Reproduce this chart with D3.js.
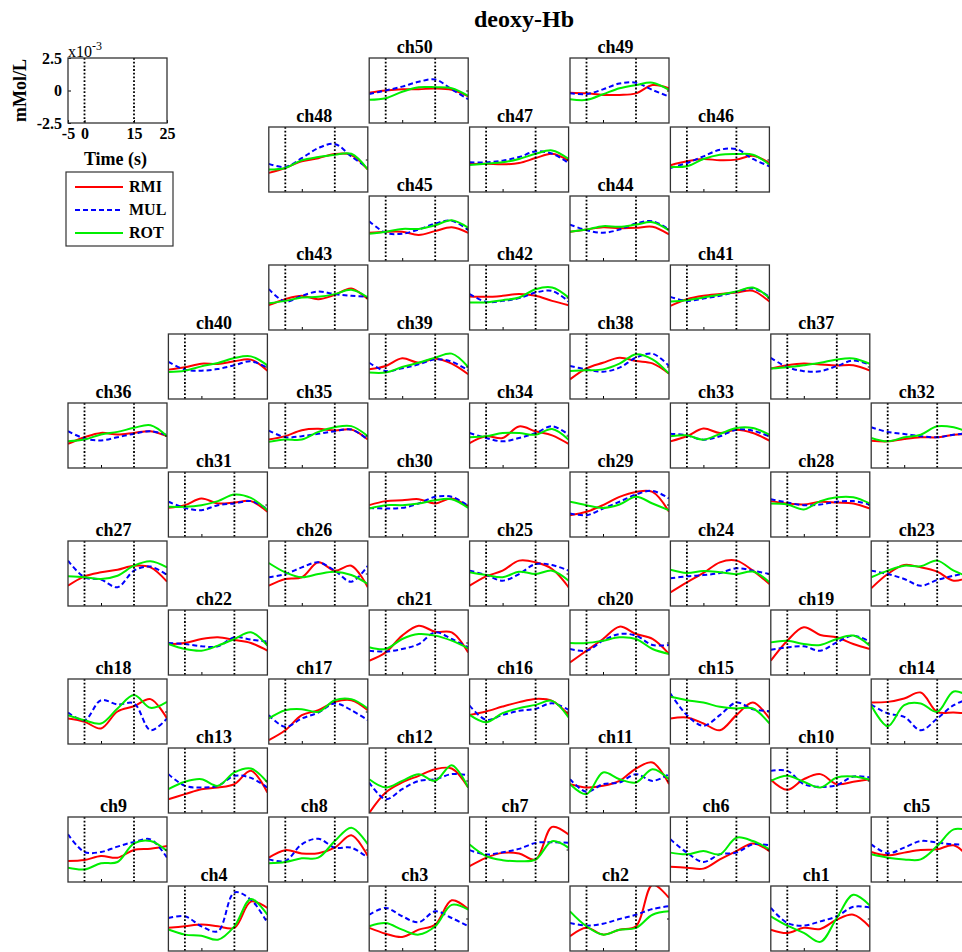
<!DOCTYPE html>
<html lang="en">
<head>
<meta charset="utf-8">
<title>deoxy-Hb</title>
<script src="https://d3js.org/d3.v7.min.js"></script>
<style>
  body { margin: 0; background: white; }
  svg text { font-family: "Times New Roman", "Liberation Serif", serif; fill: black; }
</style>
</head>
<body>
<div id="chart"></div>
<script>
// sample times (s) and deoxy-Hb values (x10^-3 mMol/L), index = channel - 1
var times = [-5, 0, 5, 10, 15, 20, 25];

var rmi = [
  [-0.86,-1.12,-0.72,-0.8,-0.09,0.29,-0.65],
  [-1.37,-0.72,-1.24,-0.86,-0.6,2.6,1.58],
  [-0.72,-1.17,-1.42,-0.86,-0.47,1.4,0.73],
  [-0.72,-0.6,-0.47,-0.6,-0.72,1.3,0.81],
  [-0.19,-0.45,-0.24,-0.04,0.01,0.32,-0.76],
  [-1.32,-1.4,-1.47,-0.76,-0.12,0.47,-0.12],
  [-1.28,-0.64,-0.26,-0.31,-0.77,1.74,1.15],
  [-0.63,-0.05,-0.3,-0.29,0.14,1.09,-0.5],
  [-0.88,-0.81,-0.5,-0.63,-0.04,0.06,0.27],
  [0.05,-0.72,0.1,0.49,-0.28,-0.1,0.1],
  [-0.28,-0.54,-0.41,-0.03,0.92,1.38,-0.28],
  [-2.5,-0.92,-0.15,0.36,0.87,0.92,-0.54],
  [-1.44,-1.05,-0.67,-0.54,-0.28,0.75,-0.92],
  [0.69,0.74,1.0,1.46,-0.03,-0.08,-0.15],
  [-0.54,-0.46,-0.92,-1.44,-0.28,0.69,-0.54],
  [-0.26,0,0.38,0.72,0.97,0.82,-0.26],
  [-2.2,-1.44,-0.28,0.1,0.74,0.87,0.1],
  [-0.54,-0.79,-1.3,0.0,0.4,0.95,-0.54],
  [-1.4,0.14,1.17,0.58,0.4,-0.12,-0.5],
  [-1.53,-0.63,0.27,1.22,0.65,0.27,-0.88],
  [-1.4,-0.76,0.53,1.29,0.83,0.78,-0.76],
  [-0.12,-0.04,0.27,0.4,0.19,-0.04,-0.63],
  [-1.14,-0.04,0.65,0.47,0.14,-0.55,-0.22],
  [-1.45,-0.68,0.04,0.86,0.99,0.22,-0.81],
  [-0.94,-0.22,0.22,0.99,0.86,0.35,-1.06],
  [-0.94,-0.42,-0.29,0.86,0.22,0.6,-1.06],
  [-0.94,-0.22,0.09,0.29,0.6,0.47,-0.63],
  [0.26,0.08,0,0.21,0.15,0.08,-0.31],
  [-0.82,-0.56,-0.05,0.59,0.97,0.97,-0.56],
  [-0.05,0.26,0.33,0.41,0.08,0.46,-0.18],
  [-0.26,-0.05,0.46,0.08,0.15,0.26,-0.56],
  [-0.4,-0.45,-0.27,-0.14,-0.14,0.06,0.12],
  [-0.45,-0.06,0.53,0.19,0.45,0.19,-0.4],
  [-0.58,-0.06,-0.19,0.7,0.32,0.01,-0.65],
  [-0.31,-0.05,0.41,0.51,0.38,0.46,-0.31],
  [-0.64,-0.13,0.2,0.08,0.2,0.33,-0.05],
  [-0.15,0.1,0.23,0.15,0.08,0.1,-0.31],
  [-0.99,-0.14,0.29,0.68,0.42,0.24,-0.55],
  [-0.22,0.04,0.63,0.29,0.6,0.22,-0.6],
  [-0.24,-0.06,0.22,0.19,0.4,0.53,-0.32],
  [-0.64,-0.13,0.13,0.26,0.38,0.51,-0.31],
  [0.08,0.05,0.13,0.26,0.13,-0.26,-0.59],
  [-0.59,-0.13,0.13,-0.13,0.2,0.69,-0.13],
  [-0.25,-0.08,0.1,0.03,0.05,0.13,-0.46],
  [-0.33,-0.25,-0.25,-0.5,-0.2,0.1,-0.33],
  [-0.44,-0.14,0.04,-0.06,-0.01,0.29,-0.27],
  [-0.34,-0.32,-0.37,-0.27,0.11,0.44,-0.09],
  [-1.03,-0.65,-0.14,0.1,0.42,0.35,-0.77],
  [-0.17,-0.22,-0.34,-0.34,-0.22,0.42,0.17],
  [-0.17,0,0.1,0.1,0.15,0.05,-0.45]
];

var mul = [
  [0.81,-0.35,-0.55,-0.22,0.17,0.9,0.85],
  [-0.35,-0.55,-0.4,-0.04,0.29,0.73,0.94],
  [0.29,0.81,0.17,-0.29,0.55,0.04,-0.6],
  [0.04,0.17,-0.6,-0.98,2.0,1.45,-0.34],
  [0.4,-0.29,0.14,0.65,0.53,0.4,0.4],
  [0.78,-0.24,-0.96,-0.37,-0.24,0.4,0.32],
  [-0.05,-0.38,-0.21,0.05,0.51,0.56,0.51],
  [-0.76,-0.88,0.4,0.83,0.14,0.14,-0.63],
  [1.17,-0.19,-0.19,0.22,0.58,0.78,-0.63],
  [0.74,0.74,-0.28,-0.49,-0.36,0.31,0.23],
  [0.1,-0.87,-0.28,-0.15,0.49,-0.03,0.49],
  [-0.15,-1.44,-0.67,-0.03,0.1,0.49,0.41],
  [0.49,-0.41,-0.54,-0.41,0.36,0.2,-0.54],
  [0.54,-0.15,-0.41,-1.44,-0.54,0.49,1.0],
  [1.38,-0.28,-1.1,-0.28,0.69,0.18,0.03],
  [0.46,-0.64,-0.26,0.05,0.21,0.64,0.13],
  [-0.28,-1.18,-0.54,-0.08,0.62,0.1,-0.67],
  [-0.08,-0.67,0.87,0.54,0.62,-1.44,-0.54],
  [-0.55,-0.37,-0.29,-0.63,0.01,0.53,0.06],
  [-0.5,-0.63,0.14,0.65,0.53,-0.19,-0.19],
  [-0.63,-0.7,-0.5,-0.12,0.78,0.27,-0.37],
  [-0.04,-0.12,-0.29,-0.3,0.4,0.22,0.06],
  [0.22,-0.04,-0.42,-0.94,-0.5,-0.17,0.09],
  [-0.37,-0.22,-0.12,0.04,0.4,0.22,-0.04],
  [0.22,-0.12,-0.55,-0.04,0.73,0.65,0.22],
  [-0.29,-0.04,0.47,0.86,0.22,-0.63,0.6],
  [0.99,-0.29,-0.47,-1.06,0.22,0.53,-0.12],
  [0.41,0.15,-0.05,0,0.21,0.26,0],
  [-0.69,-0.82,-0.31,0.21,0.77,1.05,0.46],
  [-0.26,-0.31,-0.26,0.08,0.59,0.59,-0.1],
  [0.21,-0.26,-0.44,-0.05,0.08,0.26,-0.36],
  [0.63,0.27,0.12,-0.06,-0.14,0.06,0.19],
  [0.14,0.01,-0.32,-0.06,0.45,0.37,-0.06],
  [0.19,-0.19,-0.45,-0.19,0.19,0.71,0.06],
  [0.38,-0.13,-0.05,0.13,0.33,0.46,-0.31],
  [0.33,-0.23,-0.38,-0.13,0.13,0.33,0.03],
  [0.67,-0.05,-0.36,-0.36,0.03,0.46,0.15],
  [0.04,-0.22,-0.4,-0.09,0.68,0.99,0.04],
  [0.29,-0.35,-0.14,0.17,0.55,0.37,-0.29],
  [0.35,-0.24,-0.32,-0.19,0.09,0.4,-0.11],
  [0.05,-0.26,-0.08,0.13,0.44,0.69,0.05],
  [0.26,-0.33,-0.26,-0.05,0.38,0.51,-0.31],
  [0.64,-0.31,0.13,0.46,0.26,0.13,0.05],
  [0.3,-0.13,-0.33,-0.08,0.38,0.56,-0.08],
  [0.56,-0.33,-0.4,-0.08,0.38,0.6,-0.13],
  [-0.65,-0.27,0.24,0.75,0.8,0.04,-0.52],
  [-0.22,-0.22,-0.09,0.19,0.62,0.44,-0.27],
  [-0.34,-0.57,0.1,0.88,1.2,0.24,-0.65],
  [-0.22,-0.27,0.09,0.54,0.6,0.04,-0.47],
  [-0.27,0,0.3,0.67,0.85,0.09,-0.67]
];

var rot = [
  [0.17,-0.55,-1.1,-1.8,0.04,1.83,1.0],
  [0.55,-0.6,-1.24,-0.86,-0.72,0.29,0.55],
  [-0.6,-0.35,-0.86,-1.24,-0.6,1.05,0.68],
  [-0.85,-1.24,-1.32,-1.63,-0.6,1.5,0.29],
  [-0.37,-0.63,-0.76,-0.76,0.27,1.55,1.42],
  [-0.24,-0.37,-0.12,-0.37,0.91,0.65,0.01],
  [0.38,-0.51,-0.82,-0.9,-0.77,0.64,0.13],
  [-1.06,-0.96,-0.68,-0.63,0.65,1.68,0.4],
  [-1.4,-1.53,-1.06,-0.96,0.47,0.65,-0.12],
  [-0.03,0.36,-0.1,-0.54,0.23,0.31,0.05],
  [-0.28,-1.05,0.62,0.1,-0.15,0.87,0.1],
  [0.1,-0.54,-0.03,0.49,-0.03,1.18,-0.54],
  [-0.67,-0.1,0.1,-0.41,0.62,0.92,-0.15],
  [0.49,-1.13,0.49,0.62,-0.03,1.54,1.1],
  [1.13,0.87,0.69,0.36,0.23,0.23,-0.92],
  [-0.26,-0.82,-0.13,0.26,0.51,0.82,-0.46],
  [-0.54,0.1,0.18,-0.03,0.87,0.95,0.23],
  [-0.28,-0.67,-0.92,0.23,1.26,0.28,0.74],
  [0.01,0.14,-0.12,-0.19,0.27,0.53,-0.24],
  [-0.04,-0.04,0.14,0.4,0.27,-0.5,-0.88],
  [-0.37,-0.5,0.27,0.65,0.53,0.14,-0.45],
  [-0.12,-0.5,-0.63,-0.24,0.27,0.78,-0.24],
  [-0.29,0.22,0.6,0.55,0.99,0.22,-0.29],
  [0.29,0.04,0.2,0.1,-0.05,0.15,-0.68],
  [0.09,-0.12,-0.29,0.14,-0.04,0.22,-0.55],
  [0.81,0.09,-0.29,-0.04,0.14,-0.12,-0.81],
  [-0.22,-0.29,-0.42,-0.17,0.6,0.94,0.47],
  [0.08,0,-0.38,0.26,0.56,0.56,0.08],
  [0.21,-0.05,-0.26,0,0.59,0.08,-0.44],
  [-0.31,-0.05,-0.05,0.08,0.33,0.41,-0.26],
  [-0.18,-0.18,-0.05,0.26,0.77,0.51,-0.44],
  [-0.19,-0.45,-0.14,0.06,0.71,0.63,0.2],
  [-0.06,0.01,-0.32,0.12,0.58,0.58,0.06],
  [-0.14,-0.06,0.19,0.19,0.06,0.5,-0.32],
  [-0.49,-0.31,-0.31,0.28,0.64,0.72,-0.05],
  [-0.44,-0.31,0.08,0.28,0.59,0.79,-0.05],
  [-0.15,-0.05,0.1,0.28,0.54,0.62,0.21],
  [-0.35,-0.29,-0.22,0.22,0.94,0.55,-0.55],
  [-0.47,-0.47,-0.04,0.29,0.68,0.99,-0.04],
  [-0.42,-0.32,0.01,0.27,0.65,0.78,0.09],
  [-0.31,-0.21,0,0.21,0.46,0.77,-0.05],
  [-0.38,-0.38,-0.21,0,0.64,0.77,0],
  [-0.44,-0.26,0,0.05,0.26,0.59,0],
  [-0.25,-0.08,0.18,0.13,0.3,0.48,-0.15],
  [-0.4,-0.25,-0.03,-0.03,0.25,0.63,0.05],
  [-0.57,-0.52,0.04,0.37,0.42,0.37,-0.39],
  [-0.42,-0.32,-0.22,0.04,0.44,0.7,0.04],
  [-0.77,-0.65,-0.06,0.19,0.37,0.44,-0.77],
  [-0.67,-0.72,-0.29,0.17,0.42,0.6,0.04],
  [-0.72,-0.6,-0.1,0.25,0.25,0.17,-0.42]
];

// probe layout: channels per row and the grid column of the first one
var rowChannels = [[50,49],[48,47,46],[45,44],[43,42,41],[40,39,38,37],[36,35,34,33,32],
                   [31,30,29,28],[27,26,25,24,23],[22,21,20,19],[18,17,16,15,14],
                   [13,12,11,10],[9,8,7,6,5],[4,3,2,1]];
var rowStartCol = [3,2,3,2,1,0,1,0,1,0,1,0,1];

var seriesNames = ["RMI", "MUL", "ROT"];
var stimTimes = [0, 15];
var xTicks = [-5, 0, 15, 25];
var yTicks = [-2.5, 0, 2.5];

var width = 962, height = 952;
var boxW = 99, boxH = 65;
var left0 = 68, colStep = 100.4, top0 = 58, rowStep = 69;

var series = [
  { name: seriesNames[0], values: rmi, color: "#ff0000", dash: null },
  { name: seriesNames[1], values: mul, color: "#0000ff", dash: "5,3" },
  { name: seriesNames[2], values: rot, color: "#00ee00", dash: null }
];

var svg = d3.select("#chart").append("svg")
  .attr("width", width)
  .attr("height", height);

var x = d3.scaleLinear().domain([-5, 25]).range([0, boxW]);
var y = d3.scaleLinear().domain([-2.5, 2.5]).range([boxH, 0]);

var line = d3.line()
  .x(function(d) { return x(d[0]); })
  .y(function(d) { return y(d[1]); })
  .curve(d3.curveCatmullRom.alpha(0.5));

svg.append("text")
  .attr("x", 524).attr("y", 27)
  .attr("text-anchor", "middle")
  .style("font-size", "24px").style("font-weight", "bold")
  .text("deoxy-Hb");

function drawStim(g) {
  g.selectAll("line.stim")
    .data(stimTimes)
    .enter().append("line")
      .attr("class", "stim")
      .attr("x1", function(d) { return x(d); })
      .attr("x2", function(d) { return x(d); })
      .attr("y1", 0).attr("y2", boxH)
      .attr("stroke", "black")
      .attr("stroke-width", 1.8)
      .attr("stroke-dasharray", "1.8,1.9");
}

function drawFrame(g) {
  g.append("rect")
    .attr("width", boxW).attr("height", boxH)
    .attr("fill", "none")
    .attr("stroke", "#333")
    .attr("stroke-width", 1.3);
}

// one small axes per channel
rowChannels.forEach(function(chans, r) {
  chans.forEach(function(ch, k) {
    var px = left0 + colStep * (rowStartCol[r] + 2 * k);
    var py = top0 + rowStep * r;
    var g = svg.append("g").attr("transform", "translate(" + px + "," + py + ")");

    g.append("clipPath").attr("id", "clip" + ch)
      .append("rect").attr("width", boxW).attr("height", boxH);

    var plot = g.append("g").attr("clip-path", "url(#clip" + ch + ")");
    series.forEach(function(s) {
      plot.append("path")
        .datum(d3.zip(times, s.values[ch - 1]))
        .attr("d", line)
        .attr("fill", "none")
        .attr("stroke", s.color)
        .attr("stroke-width", 2)
        .attr("stroke-dasharray", s.dash);
    });

    drawStim(g);

    // small inside ticks like matlab
    g.append("g")
      .attr("transform", "translate(0," + boxH + ")")
      .call(d3.axisBottom(x).tickValues([5]).tickSize(-3).tickFormat(""))
      .call(function(a) { a.select(".domain").remove(); });
    g.append("g")
      .attr("transform", "translate(" + boxW + ",0)")
      .call(d3.axisRight(y).tickValues([0]).tickSize(-2).tickFormat(""))
      .call(function(a) { a.select(".domain").remove(); });

    drawFrame(g);

    g.append("text")
      .attr("x", boxW / 2 - 4).attr("y", -5)
      .attr("text-anchor", "middle")
      .style("font-size", "18px").style("font-weight", "bold")
      .text("ch" + ch);
  });
});

// scale key in the top left corner
var key = svg.append("g").attr("transform", "translate(" + left0 + "," + top0 + ")");
drawStim(key);

var yAxis = key.append("g")
  .call(d3.axisLeft(y).tickValues(yTicks).tickSize(-3).tickPadding(6)
    .tickFormat(function(d) { return String(d); }));
yAxis.select(".domain").remove();
yAxis.selectAll("text")
  .style("font-family", "'Times New Roman', 'Liberation Serif', serif")
  .style("font-size", "16px").style("font-weight", "bold");

var xAxis = key.append("g")
  .attr("transform", "translate(0," + boxH + ")")
  .call(d3.axisBottom(x).tickValues(xTicks).tickSize(-3).tickPadding(5)
    .tickFormat(function(d) { return String(d); }));
xAxis.select(".domain").remove();
xAxis.selectAll("text")
  .style("font-family", "'Times New Roman', 'Liberation Serif', serif")
  .style("font-size", "16px").style("font-weight", "bold");

drawFrame(key);

var expo = key.append("text")
  .attr("x", 0).attr("y", -1)
  .style("font-size", "16px");
expo.append("tspan").text("x10");
expo.append("tspan").attr("dy", -7).style("font-size", "12px").text("-3");

key.append("text")
  .attr("transform", "translate(-42," + (boxH / 2) + ") rotate(-90)")
  .attr("text-anchor", "middle")
  .style("font-size", "18px").style("font-weight", "bold")
  .text("mMol/L");

key.append("text")
  .attr("x", boxW / 2 - 2).attr("y", boxH + 42)
  .attr("text-anchor", "middle")
  .style("font-size", "18px").style("font-weight", "bold")
  .text("Time (s)");

// legend
var legend = svg.append("g").attr("transform", "translate(66,172)");
legend.append("rect")
  .attr("width", 107).attr("height", 74)
  .attr("fill", "white")
  .attr("stroke", "#333")
  .attr("stroke-width", 1.2);

var items = legend.selectAll("g.item")
  .data(series)
  .enter().append("g")
    .attr("class", "item")
    .attr("transform", function(d, i) { return "translate(0," + (15 + i * 23) + ")"; });
items.append("line")
  .attr("x1", 9).attr("x2", 57)
  .attr("stroke", function(d) { return d.color; })
  .attr("stroke-width", 2)
  .attr("stroke-dasharray", function(d) { return d.dash; });
items.append("text")
  .attr("x", 63).attr("y", 5)
  .style("font-size", "16px").style("font-weight", "bold")
  .text(function(d) { return d.name; });
</script>
</body>
</html>
